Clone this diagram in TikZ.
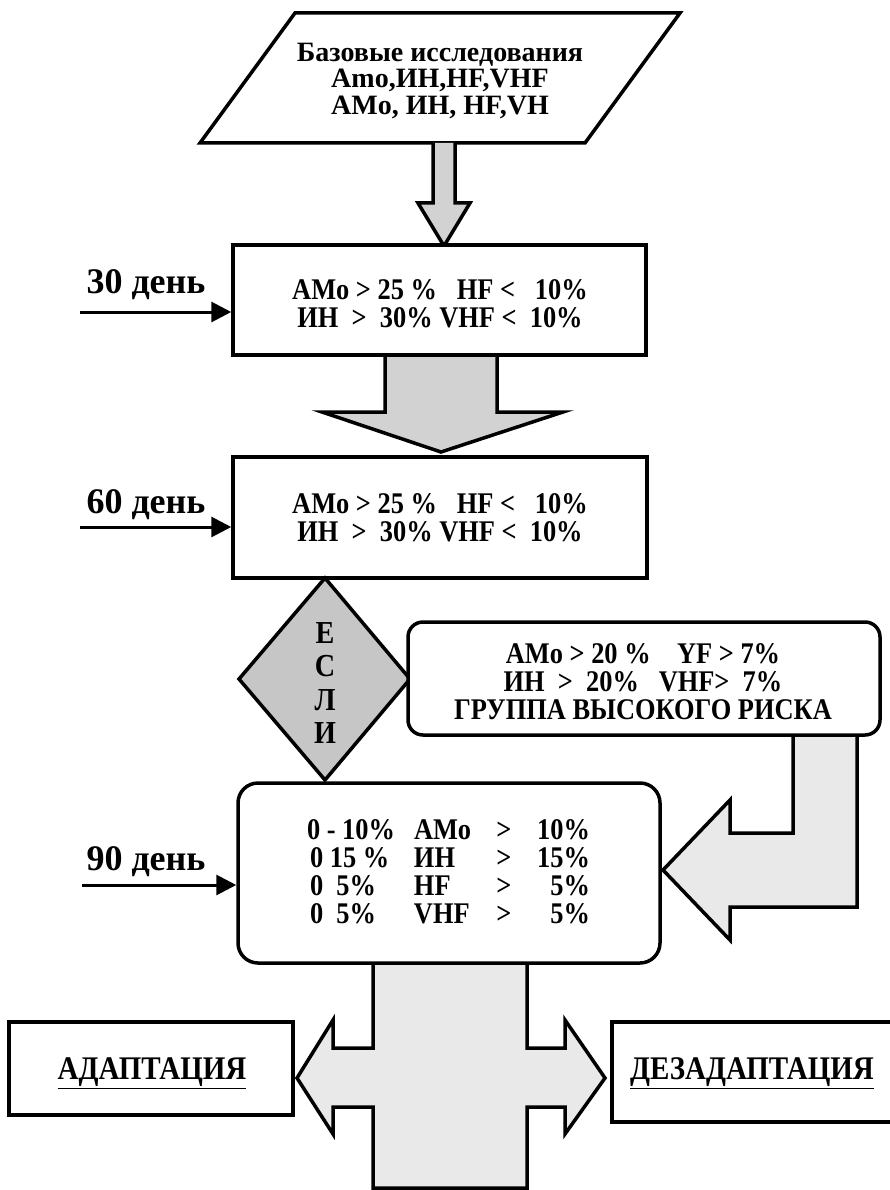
\documentclass[tikz,border=0pt]{standalone}
\usepackage{fontspec}
\setmainfont{Liberation Serif}[FakeStretch=0.88]
\newfontfamily\plainfont{Liberation Serif}
\usetikzlibrary{arrows.meta}
\begin{document}
\begin{tikzpicture}[x=1pt,y=-1pt,
  frame/.style={draw=black,line width=3.5pt,inner sep=0pt},
  blockarrow/.style={fill=gray!35,draw=black,line width=3.5pt},
  lightarrow/.style={fill=gray!17,draw=black,line width=3.5pt},
  txt/.style={font=\bfseries\fontsize{30}{28}\selectfont,align=center,inner sep=0pt},
  endtxt/.style={font=\bfseries\fontsize{33}{33}\selectfont,inner sep=0pt},
  daylabel/.style={font=\plainfont\bfseries\fontsize{36}{36}\selectfont,inner sep=0pt},
  dayarrow/.style={line width=3pt,-{Triangle[length=20pt,width=20pt]}}]
\useasboundingbox[fill=white] (0,0) rectangle (890,1190);
\clip (0,0) rectangle (890,1190);

% base parallelogram
\draw[frame,line join=miter] (295,13) -- (680,13) -- (585,143) -- (200,143) -- cycle;
\node[txt,font=\plainfont\bfseries\fontsize{28}{26.5}\selectfont] (base) at (440,81)
  {Базовые исследования\\Amo,ИН,HF,VHF\\AMo, ИН, HF,VH};

% block arrows
\filldraw[blockarrow] (433,143) -- (433,203) -- (418,203) -- (444,246) -- (470,203) -- (455,203) -- (455,143);
\filldraw[blockarrow] (385,355) -- (385,412) -- (322,412) -- (441,452) -- (563,412) -- (497,412) -- (497,355);
\filldraw[lightarrow] (793,735) -- (793,833) -- (730,833) -- (730,800) -- (663,870) -- (730,940) -- (730,907) -- (857,907) -- (857,735);
\filldraw[lightarrow] (373,963) -- (373,1048) -- (333,1048) -- (333,1020) -- (297,1078) -- (333,1134) -- (333,1107) -- (373,1107) -- (373,1188) -- (527,1188) -- (527,1107) -- (565,1107) -- (565,1134) -- (605,1078) -- (565,1020) -- (565,1048) -- (527,1048) -- (527,963);

% 30 day box
\node[frame,fill=white,minimum width=413pt,minimum height=110pt] (b30) at (439.5,300) {};
\node[txt] (t30) at (440,304) {AMo > 25 \%~~~HF <~~~10\%\\ИН~~>~~30\% VHF <~~10\%};

% 60 day box
\node[frame,fill=white,minimum width=414pt,minimum height=121pt] (b60) at (440,517.5) {};
\node[txt] (t60) at (440,518) {AMo > 25 \%~~~HF <~~~10\%\\ИН~~>~~30\% VHF <~~10\%};

% decision diamond
\filldraw[fill=gray!45,draw=black,line width=3.5pt] (325,578) -- (410,679) -- (325,780) -- (239,679) -- cycle;
\node[txt,font=\bfseries\fontsize{32}{33.5}\selectfont] (esli) at (325,683) {Е\\С\\Л\\И};

% risk box
\node[frame,fill=white,rounded corners=15pt,minimum width=472pt,minimum height=113pt] (risk) at (644,678.5) {};
\node[txt] (trisk) at (643,682) {AMo > 20 \%~~~~YF > 7\%\\ИН~~>~~20\%~~~VHF>~~7\%\\ГРУППА ВЫСОКОГО РИСКА};

% 90 day box
\node[frame,fill=white,rounded corners=20pt,minimum width=422pt,minimum height=180pt] (b90) at (449,873) {};
\node[txt] (t90) at (448.5,871.5) {%
\makebox[107pt][l]{0 - 10\%}\makebox[80pt][l]{AMo}\makebox[20pt][c]{>}\makebox[76pt][r]{10\%}\\
\makebox[107pt][l]{\hspace{3pt}0 15 \%}\makebox[80pt][l]{ИН}\makebox[20pt][c]{>}\makebox[76pt][r]{15\%}\\
\makebox[107pt][l]{\hspace{3pt}0~~5\%}\makebox[80pt][l]{HF}\makebox[20pt][c]{>}\makebox[76pt][r]{5\%}\\
\makebox[107pt][l]{\hspace{3pt}0~~5\%}\makebox[80pt][l]{VHF}\makebox[20pt][c]{>}\makebox[76pt][r]{5\%}};

% day labels and arrows
\node[daylabel] (d30) at (146,285) {30 день};
\node[daylabel] (d60) at (146,505) {60 день};
\node[daylabel] (d90) at (146,862) {90 день};
\coordinate (s30) at (80,312);
\coordinate (s60) at (80,527);
\coordinate (s90) at (82,885);
\draw[dayarrow] (s30) -- (s30 -| b30.west);
\draw[dayarrow] (s60) -- (s60 -| b60.west);
\draw[dayarrow] (s90) -- (s90 -| b90.west);

% outcome boxes
\node[frame,fill=white,minimum width=284pt,minimum height=93pt] (adapt) at (151,1068.5) {};
\node[endtxt] (tadapt) at (152,1073) {\underline{АДАПТАЦИЯ}};
\node[frame,fill=white,minimum width=400pt,minimum height=100pt] (dez) at (812,1072) {};
\node[endtxt] (tdez) at (752,1073) {\underline{ДЕЗАДАПТАЦИЯ}};
\end{tikzpicture}
\end{document}
